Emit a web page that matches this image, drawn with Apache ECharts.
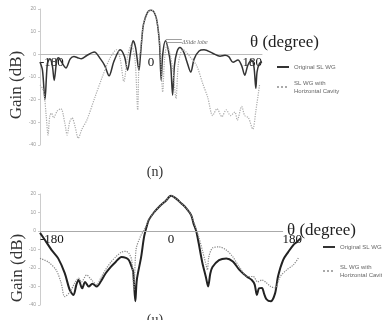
<!DOCTYPE html>
<html>
<head>
<meta charset="utf-8">
<script src="https://cdn.jsdelivr.net/npm/echarts@6/dist/echarts.min.js"></script>
<style>
  html, body { margin: 0; padding: 0; background: #fff; }
  #main { width: 382px; height: 320px; }
</style>
</head>
<body>
<div id="main"></div>
<script>
// [theta (deg), gain (dB)]
var topOrig = [[-180,-3.4],[-176,-7],[-172,-20],[-168,-4],[-164,-2],[-160,-5],[-157,-11.5],[-153,-3],[-150,-1.5],[-146,-3],[-138,-6],[-131,-2],[-125,-1],[-119,-1.5],[-113,-2],[-104,-0.5],[-92,1],[-82,-2],[-75,-5],[-68,-9.5],[-60,-3],[-50,2],[-43,-1],[-38,-7],[-33,1],[-29,6],[-25,3],[-19.5,-7],[-17,0],[-13,12],[-10,15.5],[-6,18.3],[-3,19.3],[0,19.5],[3,19.2],[6,18],[9,15.5],[12,10],[14,4],[16.5,-11.5],[19,0],[23.5,6],[28,2],[32,-5],[35,-18],[38,-5],[42,1],[47,3],[53,1],[58,-3],[64.5,-7.8],[70,-2],[78,1.5],[86,2],[100,0.5],[112,-0.8],[120,-0.4],[126,-1],[133,-3.5],[141,-2.5],[147,-5],[152,-9.2],[157,-4.8],[163,-2.5],[167,-5.6],[170,-15],[172,-7.7],[176,-4],[180,-3.3]];
var topCavity = [[-180,-13.5],[-176,-15],[-173,-18],[-170,-27],[-167,-35.6],[-164,-27],[-161,-26],[-158,-28],[-152,-25],[-146,-24],[-140,-30],[-136,-35.6],[-132,-30],[-128,-28],[-123,-32],[-118,-37],[-112,-33],[-104,-29],[-91,-19],[-79,-10],[-66.5,-1.7],[-56,2],[-50,-2],[-44,-12],[-38,-1],[-32,4],[-26,-2],[-21.6,-24.5],[-19.5,-3],[-17,2],[-13,12],[-10,15.5],[-6,18.3],[-3,19.3],[0,19.5],[3,19.2],[6,18],[9,15.5],[12,10],[15,2],[19,-16.6],[22,-2],[26,4],[31,0],[36,-8],[40.5,-19.5],[44,-5],[48,0.5],[52,2],[57,1],[63,-1],[74,-5],[84,-13],[92,-19],[100,-27],[107,-24],[115,-27.5],[122,-24.5],[129,-27],[136,-25.5],[140,-29],[147,-23],[152,-27],[158,-28],[165,-33],[170,-25],[176,-13.5]];
var botOrig = [[-180,-1],[-173,-5],[-164,-10.3],[-155,-14.8],[-146,-22.8],[-139,-32],[-134,-34.6],[-130,-29],[-127,-26.5],[-122,-31],[-118,-27.5],[-113,-30],[-108,-28.5],[-102,-30],[-96,-27],[-90,-23],[-83,-19.5],[-76,-16.7],[-68,-14],[-62,-14.5],[-58,-15.7],[-55,-18.4],[-52,-22],[-49,-38],[-47,-26.5],[-41,-14],[-37,-3.2],[-33,3],[-30.5,6],[-23.5,10],[-16.6,13],[-7,16.4],[0,19],[7,17.5],[14,15],[20.8,12.4],[27.7,8.6],[31,4],[34.6,0],[38,-6.5],[43,-17],[48,-25],[51,-30],[54,-23],[57,-19.5],[66,-15.7],[76,-14.8],[85,-16.5],[94,-21],[104,-24.6],[111,-26.5],[115,-29],[118,-34.6],[121,-31],[125,-30.8],[128,-34],[131,-36.8],[137,-38],[143,-33.7],[147,-24.6],[154,-15.7],[161,-11.4],[168,-7.6],[173,-5.9],[178,-4]];
var botCavity = [[-180,-14.8],[-169,-16.7],[-158,-21],[-151,-28],[-146,-35.5],[-139,-33],[-132,-28],[-127,-25.5],[-123,-27.5],[-116,-23.8],[-109,-26.5],[-102,-29],[-96,-25],[-90,-21],[-83,-17],[-76,-14],[-68,-11.4],[-62,-11],[-58,-12],[-54,-15.7],[-51,-32],[-48,-10],[-42,-3],[-35,2],[-30.5,6],[-23.5,10],[-16.6,13],[-7,16.4],[0,19],[7,17.5],[14,15],[20.8,12.4],[27.7,8.6],[31,5],[34.6,1],[38,-3],[43,-10.3],[48,-18],[50,-21],[52,-14],[57,-9.2],[66,-8.6],[76,-10.3],[85,-14],[94,-19.5],[105,-24.6],[113,-24.6],[119,-27.5],[125,-26.5],[131,-28],[137,-30],[143,-30.8],[150,-24.6],[159,-21],[168,-18.4],[175,-14.6]];

var thetaTicks = [-180, 0, 180];
var gainRange = [-40, 20];
var sideLobeLevels = [6.6, 5.2];
var sideLobeSpan = [24, 50];
var zeroLineEnd = 154;

var nameOrig = 'Original SL WG';
var nameCavity = 'SL WG with\nHorizontal Cavity';
var serif = '"Liberation Serif", "DejaVu Serif", serif';

var grids = [
  { left: 40, top: 9, width: 222, height: 136 },
  { left: 40, top: 194, width: 262, height: 111 }
];

// x axis sits on the 0 dB line, so shift it up from the grid bottom
function zeroOffset(g) {
  return -g.height * (0 - gainRange[0]) / (gainRange[1] - gainRange[0]);
}

function xAxisOf(idx, showLine) {
  return {
    type: 'value', gridIndex: idx, min: thetaTicks[0], max: thetaTicks[2], interval: 180,
    offset: zeroOffset(grids[idx]),
    axisLine: { show: showLine, onZero: false, lineStyle: { color: '#bbb', width: 1 } },
    axisTick: { show: false },
    splitLine: { show: false },
    axisLabel: {
      color: '#111', fontFamily: serif, fontSize: 13, margin: 2,
      alignMinLabel: 'left', alignMaxLabel: 'right'
    }
  };
}
function yAxisOf(idx) {
  return {
    type: 'value', gridIndex: idx, min: gainRange[0], max: gainRange[1], interval: 10,
    axisLine: { show: true, onZero: false, lineStyle: { color: '#ccc' } },
    axisTick: { show: true, length: 2, lineStyle: { color: '#ccc' } },
    splitLine: { show: false },
    axisLabel: { color: '#999', fontSize: 5, margin: 4 }
  };
}
function legendAt(left, top, gap) {
  return {
    left: left, top: top, orient: 'vertical', itemWidth: 12, itemHeight: 6, itemGap: gap,
    itemStyle: { color: 'transparent', borderColor: 'transparent', borderWidth: 0 },
    textStyle: { fontSize: 6, color: '#666', lineHeight: 8 },
    data: [nameOrig, nameCavity]
  };
}

var sideLobeLines = sideLobeLevels.map(function (v) {
  return [{ coord: [sideLobeSpan[0], v] }, { coord: [sideLobeSpan[1], v] }];
});

var chart = echarts.init(document.getElementById('main'));
chart.setOption({
  animation: false,
  grid: grids,
  xAxis: [xAxisOf(0, true), xAxisOf(1, false)],
  yAxis: [yAxisOf(0), yAxisOf(1)],
  legend: [legendAt(271, 58, 8), legendAt(317, 238, 12)],
  series: [
    {
      name: nameOrig, type: 'line', xAxisIndex: 0, yAxisIndex: 0, data: topOrig, symbol: 'none',
      smooth: 0.3, lineStyle: { color: '#333', width: 1.5 }, itemStyle: { color: '#333' },
      markLine: {
        silent: true, symbol: 'none', label: { show: false },
        lineStyle: { color: '#888', width: 0.8, type: 'solid' },
        data: sideLobeLines
      }
    },
    {
      name: nameCavity, type: 'line', xAxisIndex: 0, yAxisIndex: 0, data: topCavity, symbol: 'none',
      smooth: 0.3, lineStyle: { color: '#aaa', width: 1.2, type: 'dotted' }, itemStyle: { color: '#aaa' }
    },
    {
      name: nameOrig, type: 'line', xAxisIndex: 1, yAxisIndex: 1, data: botOrig, symbol: 'none',
      smooth: 0.3, lineStyle: { color: '#222', width: 2 }, itemStyle: { color: '#222' },
      markLine: {
        silent: true, symbol: 'none', label: { show: false },
        lineStyle: { color: '#aaa', width: 1, type: 'solid' },
        data: [[{ coord: [thetaTicks[0], 0] }, { coord: [zeroLineEnd, 0] }]]
      }
    },
    {
      name: nameCavity, type: 'line', xAxisIndex: 1, yAxisIndex: 1, data: botCavity, symbol: 'none',
      smooth: 0.3, lineStyle: { color: '#888', width: 1.2, type: 'dotted' }, itemStyle: { color: '#888' }
    }
  ],
  graphic: [
    { type: 'text', x: 250, y: 34, style: { text: 'θ (degree)', font: '17px ' + serif, fill: '#222' } },
    { type: 'text', x: 287, y: 222, style: { text: 'θ (degree)', font: '17px ' + serif, fill: '#222' } },
    { type: 'text', x: 17, y: 85, rotation: Math.PI / 2,
      style: { text: 'Gain (dB)', font: '17px ' + serif, fill: '#333', align: 'center', verticalAlign: 'middle' } },
    { type: 'text', x: 18, y: 268, rotation: Math.PI / 2,
      style: { text: 'Gain (dB)', font: '17px ' + serif, fill: '#333', align: 'center', verticalAlign: 'middle' } },
    { type: 'text', x: 155, y: 172,
      style: { text: '(n)', font: '14px ' + serif, fill: '#333', align: 'center', verticalAlign: 'middle' } },
    { type: 'text', x: 155, y: 313,
      style: { text: '(u)', font: '14px ' + serif, fill: '#333', align: 'center', verticalAlign: 'top' } },
    { type: 'text', x: 182, y: 39,
      style: { text: 'ΔSide lobe', font: 'italic 6px ' + serif, fill: '#666' } }
  ]
});
</script>
</body>
</html>
